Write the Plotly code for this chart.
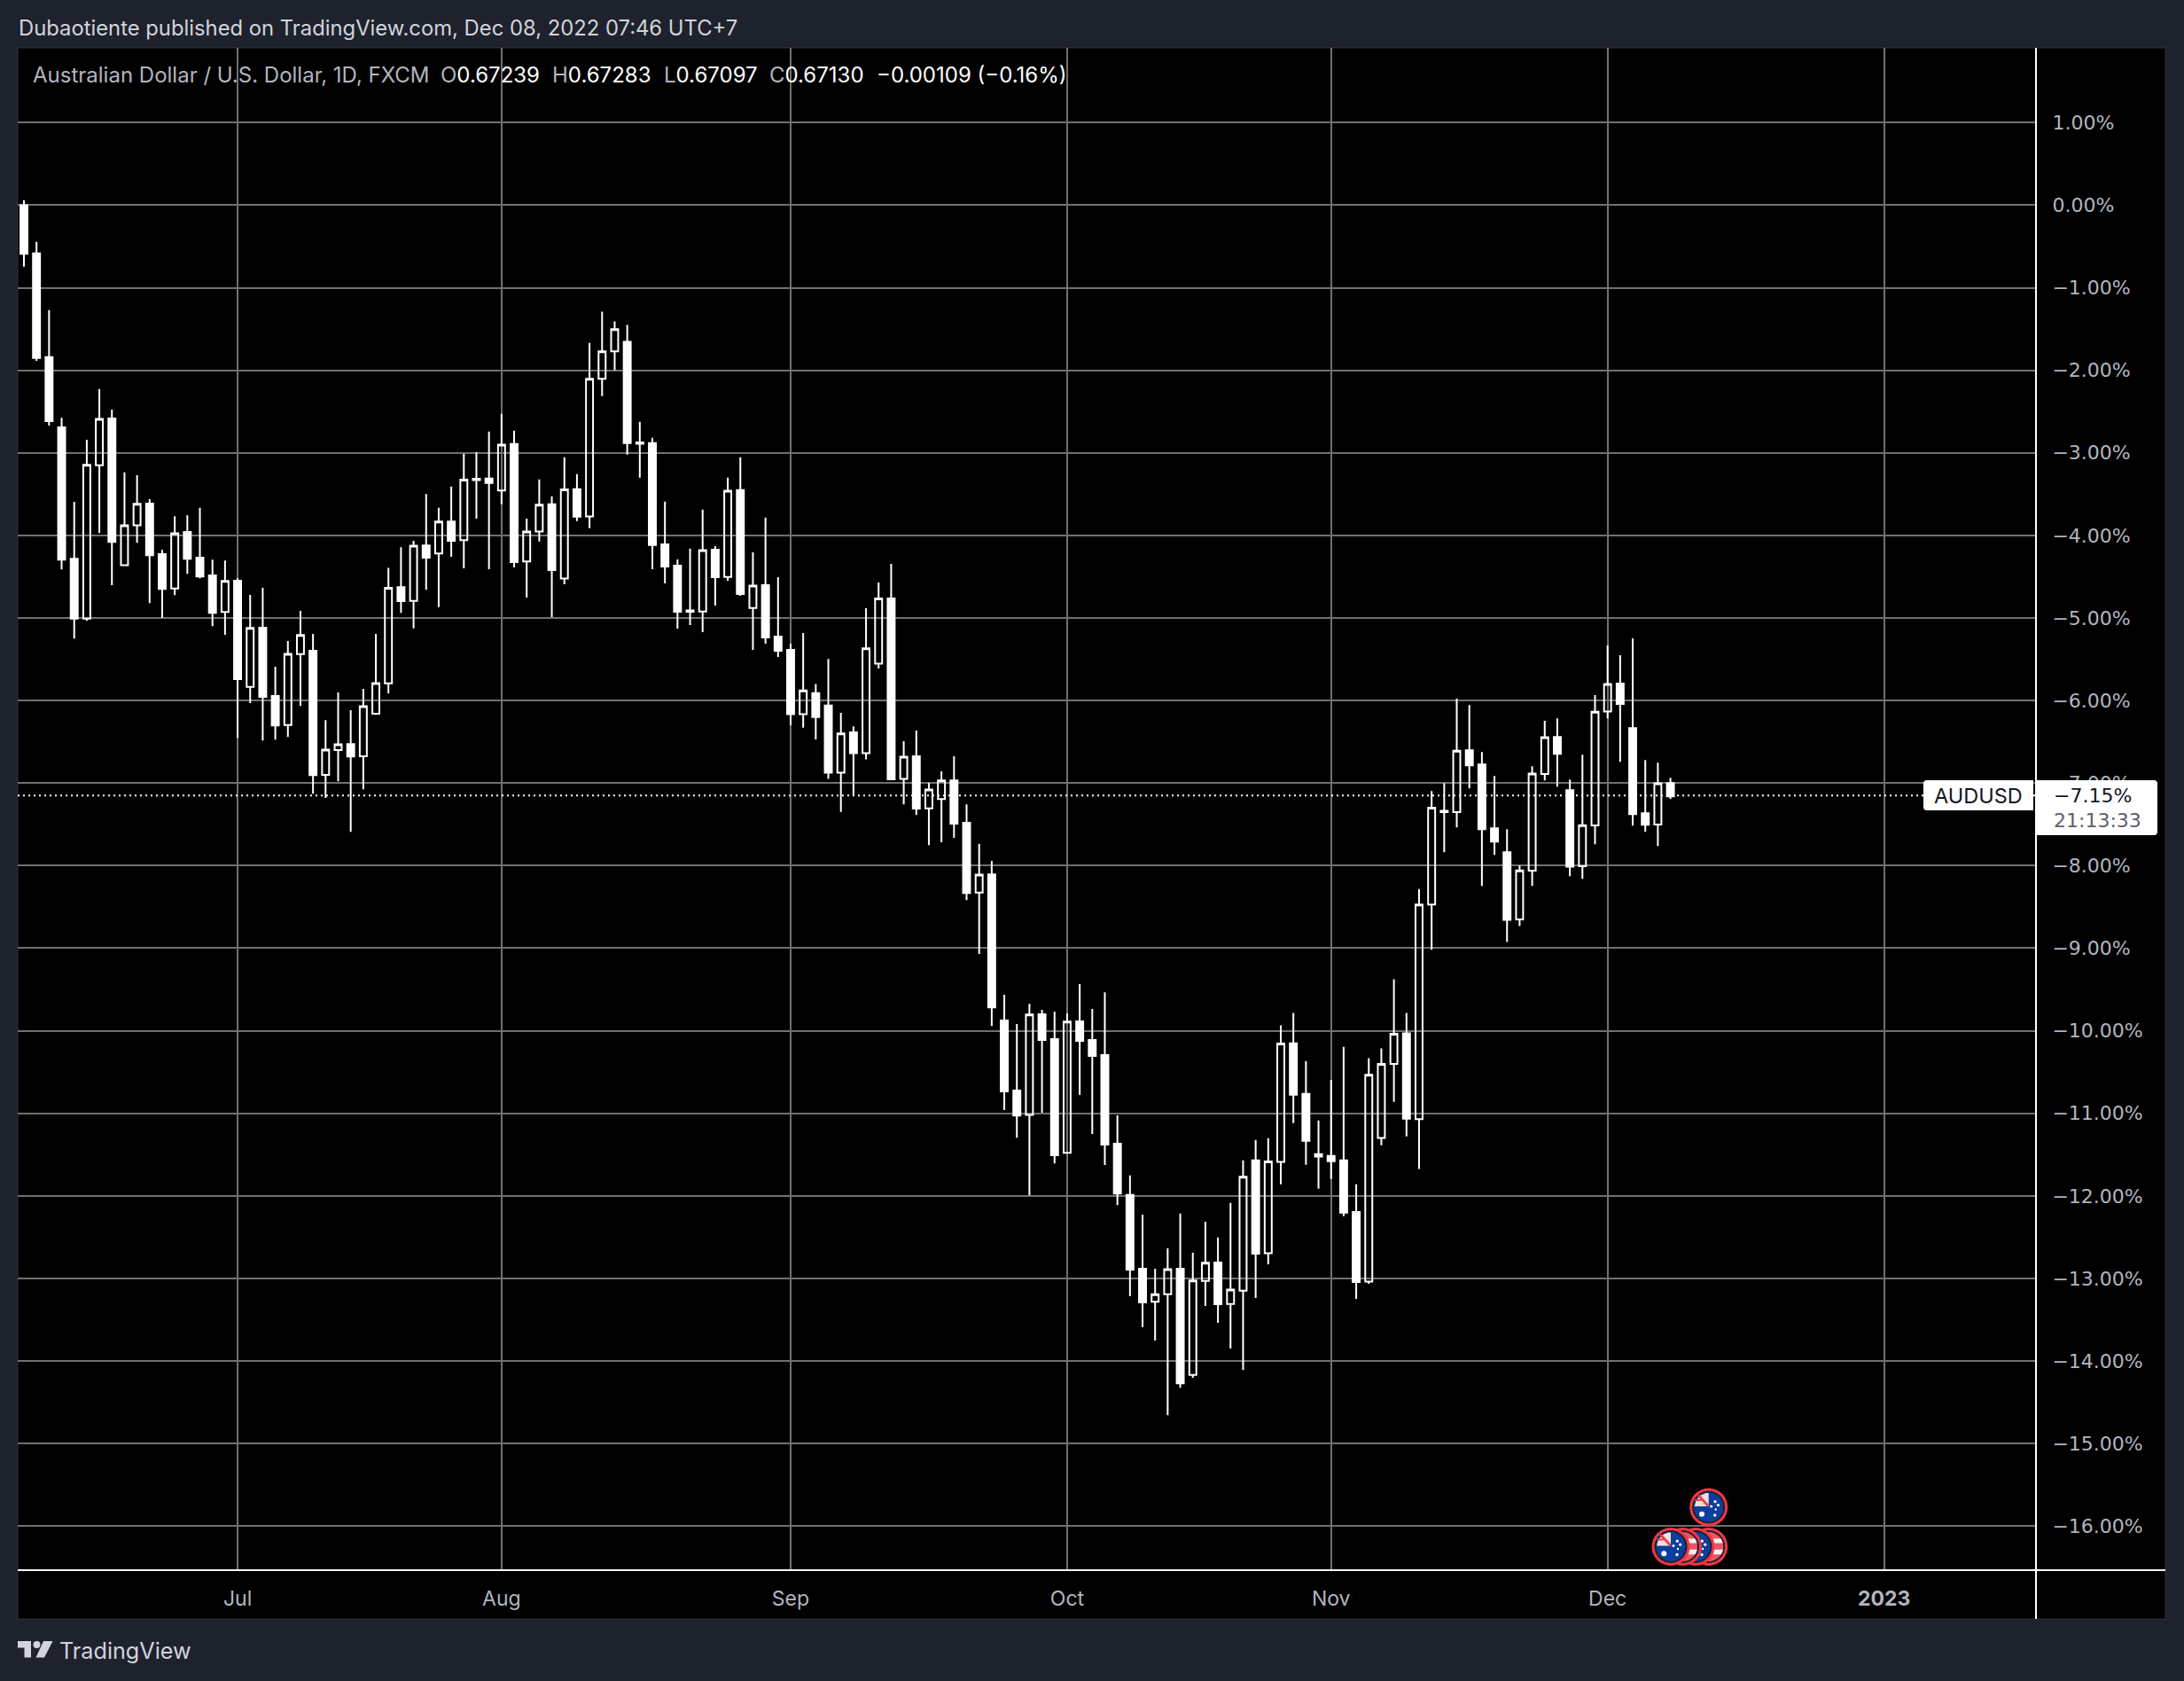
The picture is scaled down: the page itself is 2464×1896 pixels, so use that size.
import math
import plotly.graph_objects as go

W, H = 2464, 1896
# Plot pane in page pixels
PL, PR, PT, PB = 20, 2297, 54, 1771
PANEL_R, PANEL_B = 2443, 1826

# Percent change per daily bar
highs = [0.06,-0.445,-1.271,-2.577,-3.594,-2.842,-2.227,-2.477,-3.237,-3.272,-3.56,-4.174,-3.767,-3.756,-3.667,-4.293,-4.305,-4.52,
 -4.72,-4.634,-5.591,-5.28,-4.914,-5.194,-6.237,-5.903,-6.118,-5.86,-5.194,-4.393,-4.144,-4.067,-3.498,-3.667,-3.409,-3.011,-2.993,-2.742,
 -2.527,-2.731,-3.796,-3.323,-3.527,-3.054,-3.258,-1.667,-1.29,-1.409,-1.452,-2.624,-2.817,-3.591,-4.29,-4.161,-3.688,-4.129,-3.301,-3.054,
 -4.204,-3.785,-4.505,-5.312,-5.183,-5.8,-5.498,-6.15,-6.312,-4.882,-4.571,-4.345,-6.494,-6.365,-6.998,-6.859,-6.676,-7.257,-7.736,-7.942,
 -9.564,-9.918,-9.674,-9.746,-9.767,-9.789,-9.434,-9.735,-9.535,-11.025,-11.753,-12.226,-12.882,-12.634,-12.215,-12.688,-12.312,-12.505,-12.086,-11.57,
 -11.323,-11.301,-9.935,-9.785,-10.366,-11.086,-10.595,-10.194,-11.86,-10.333,-10.215,-9.376,-9.785,-8.283,-7.097,-7.0,-5.978,-6.054,-6.624,-6.914,
 -7.559,-8.0,-6.796,-6.247,-6.215,-6.957,-6.656,-5.935,-5.333,-5.452,-5.247,-6.72,-6.753,-6.935]
body_tops = [0.0,-0.584,-1.839,-2.692,-4.282,-3.145,-2.588,-2.584,-3.879,-3.617,-3.614,-4.228,-3.975,-3.959,-4.27,-4.485,-4.552,-4.548,
 -5.122,-5.118,-5.946,-5.434,-5.208,-5.398,-6.595,-6.53,-6.527,-6.068,-5.789,-4.635,-4.627,-4.124,-4.121,-3.832,-3.832,-3.326,-3.315,-3.312,
 -2.9,-2.892,-3.953,-3.627,-3.624,-3.444,-3.441,-2.104,-1.771,-1.502,-1.656,-2.875,-2.882,-4.108,-4.366,-4.91,-4.179,-4.172,-3.459,-3.452,
 -4.609,-4.602,-5.226,-5.387,-5.878,-5.91,-6.06,-6.4,-6.384,-5.367,-4.763,-4.763,-6.681,-6.676,-7.079,-6.969,-6.969,-7.482,-8.11,-8.105,
 -9.875,-10.724,-9.803,-9.799,-10.1,-9.889,-9.885,-10.111,-10.294,-11.369,-11.989,-12.882,-13.19,-12.889,-12.882,-13.025,-12.81,-12.806,-13.136,-11.767,
 -11.57,-11.584,-10.154,-10.151,-10.763,-11.495,-11.516,-11.57,-12.194,-10.534,-10.401,-10.036,-10.032,-8.472,-7.297,-7.337,-6.609,-6.602,-6.774,-7.548,
 -7.839,-8.057,-6.885,-6.444,-6.441,-7.086,-7.509,-6.136,-5.799,-5.796,-6.333,-7.366,-7.004,-7.0]
body_bottoms = [-0.59,-1.851,-2.615,-4.293,-5.008,-5.008,-3.149,-4.078,-4.362,-3.879,-4.24,-4.647,-4.643,-4.282,-4.497,-4.939,-4.928,-5.742,
 -5.835,-5.957,-6.301,-6.297,-5.437,-6.903,-6.9,-6.599,-6.677,-6.674,-6.161,-5.792,-4.796,-4.793,-4.27,-4.22,-4.065,-4.057,-3.33,-3.366,
 -3.455,-4.323,-4.315,-3.953,-4.419,-4.523,-3.774,-3.771,-2.104,-1.771,-2.882,-2.889,-4.118,-4.376,-4.925,-4.925,-4.921,-4.505,-4.502,-4.71,
 -4.878,-5.237,-5.398,-6.166,-6.166,-6.2,-6.875,-6.875,-6.638,-6.638,-5.554,-6.954,-6.95,-7.309,-7.305,-7.194,-7.492,-8.331,-8.326,-9.717,
 -10.734,-11.026,-11.018,-10.111,-11.509,-11.477,-10.122,-10.305,-11.38,-11.971,-12.892,-13.29,-13.283,-13.19,-14.269,-14.168,-13.029,-13.312,-13.308,-13.147,
 -12.699,-12.695,-11.588,-10.774,-11.333,-11.523,-11.581,-12.204,-13.043,-13.039,-11.297,-10.401,-11.065,-11.069,-8.472,-7.351,-7.351,-6.785,-7.559,-7.71,
 -8.656,-8.652,-8.061,-6.889,-6.645,-8.011,-8.007,-7.513,-6.133,-6.043,-7.376,-7.505,-7.502,-7.161]
lows = [-0.745,-1.886,-2.669,-4.412,-5.25,-5.035,-3.971,-4.604,-4.362,-4.09,-4.82,-4.996,-4.723,-4.466,-4.52,-5.1,-5.204,-6.452,
 -6.032,-6.484,-6.473,-6.441,-6.065,-7.129,-7.179,-6.978,-7.591,-7.075,-6.172,-5.914,-4.939,-5.127,-4.658,-4.869,-4.258,-4.398,-3.796,-4.409,
 -3.624,-4.387,-4.753,-4.075,-4.989,-4.591,-3.828,-3.914,-2.312,-2.0,-3.022,-3.301,-4.409,-4.581,-5.129,-5.086,-5.172,-4.849,-4.548,-4.731,
 -5.387,-5.312,-5.473,-6.3,-6.33,-6.47,-6.95,-7.35,-7.156,-6.714,-5.612,-6.964,-7.257,-7.386,-7.751,-7.717,-7.664,-8.417,-9.07,-9.942,
 -10.959,-11.295,-11.993,-10.993,-11.606,-11.487,-10.778,-11.251,-11.627,-12.111,-13.215,-13.591,-13.753,-14.656,-14.323,-14.204,-13.333,-13.538,-13.849,-14.108,
 -13.237,-12.828,-11.86,-11.118,-11.624,-11.914,-11.796,-12.247,-13.247,-13.065,-11.387,-10.86,-11.28,-11.673,-9.018,-7.839,-7.538,-7.065,-8.247,-7.871,
 -8.925,-8.731,-8.247,-6.968,-7.043,-8.129,-8.161,-7.742,-6.215,-6.742,-7.516,-7.591,-7.763,-7.194]
hollow_bars = {5,6,8,9,12,16,18,21,22,24,25,27,28,29,31,33,35,38,40,41,43,45,46,47,54,56,58,62,65,67,68,70,72,73,76,80,83,
               90,91,93,94,96,97,99,100,107,108,109,111,112,114,119,120,121,124,125,126,130}
last_pct = -7.15

opens = [b if i in hollow_bars else t for i, (t, b) in enumerate(zip(body_tops, body_bottoms))]
closes = [t if i in hollow_bars else b for i, (t, b) in enumerate(zip(body_tops, body_bottoms))]
bars = list(range(len(highs)))

# Axes
month_bars = [17, 38, 61, 83, 104, 126, 148]
month_labels = ["Jul", "Aug", "Sep", "Oct", "Nov", "Dec", "<b>2023</b>"]
pct_ticks = list(range(1, -17, -1))
pct_labels = [f"{p}.00%".replace("-", "\u2212") for p in pct_ticks]
X0, BAR_DX = 27.0, 14.18
Y0, PCT_DY = 231.4, 93.12
x_range = [(PL - X0) / BAR_DX, (PR - X0) / BAR_DX]
y_range = [(Y0 - PB) / PCT_DY, (Y0 - PT) / PCT_DY]

FONT = "Inter, Liberation Sans, sans-serif"
NUM_FONT = "DejaVu Sans, Inter, sans-serif"
GRID = "#707070"
TXT = "#b2b5be"

def px(x, y):
    return x / W, 1 - y / H

def rect_path(x0, y0, x1, y1, rl=0, rr=0):
    a, b = px(x0, y0), px(x1, y1)
    rx_l, ry_l = rl / W, rl / H
    rx_r, ry_r = rr / W, rr / H
    return (f"M{a[0]+rx_l},{a[1]} L{b[0]-rx_r},{a[1]} Q{b[0]},{a[1]} {b[0]},{a[1]-ry_r} "
            f"L{b[0]},{b[1]+ry_r} Q{b[0]},{b[1]} {b[0]-rx_r},{b[1]} L{a[0]+rx_l},{b[1]} "
            f"Q{a[0]},{b[1]} {a[0]},{b[1]+ry_l} L{a[0]},{a[1]-ry_l} Q{a[0]},{a[1]} {a[0]+rx_l},{a[1]} Z")

def pshape(path, fill, line=None, lw=0, layer="above"):
    return dict(type="path", xref="paper", yref="paper", path=path, fillcolor=fill,
                line=dict(color=line or "rgba(0,0,0,0)", width=lw), layer=layer)

def poly(points):
    pts = [px(*p) for p in points]
    return "M" + " L".join(f"{x},{y}" for x, y in pts) + " Z"

def circle(cx, cy, r, fill):
    return dict(type="circle", xref="paper", yref="paper", x0=(cx - r) / W, x1=(cx + r) / W,
                y0=1 - (cy + r) / H, y1=1 - (cy - r) / H, fillcolor=fill,
                line=dict(width=0), layer="above")

def band(cx, cy, r, y0, y1):
    """horizontal stripe clipped to a circle"""
    ys = [y0 + (y1 - y0) * k / 8 for k in range(9)]
    right = [(cx + math.sqrt(max(r * r - v * v, 0)), cy + v) for v in ys]
    left = [(cx - math.sqrt(max(r * r - v * v, 0)), cy + v) for v in reversed(ys)]
    return pshape(poly(right + left), "#f4f4f6")

def coin_base(cx, cy):
    return [circle(cx, cy, 21.5, "#f23645"), circle(cx, cy, 18.5, "#1e222d")]

def coin_au(cx, cy):
    s = coin_base(cx, cy) + [circle(cx, cy, 16.5, "#0b3f9e")]
    s.append(pshape(poly([(cx - 16, cy - 1), (cx - 14, cy - 8), (cx - 9, cy - 13.5), (cx - 3, cy - 16), (cx, cy - 16), (cx, cy - 1)]), "#f6dede"))
    s.append(pshape(poly([(cx - 13, cy - 13), (cx - 10, cy - 14), (cx, cy - 3), (cx, cy - 1), (cx - 2, cy - 1)]), "#e8404f"))
    s.append(pshape(poly([(cx - 16, cy - 9), (cx - 8, cy - 9), (cx - 8, cy - 7), (cx - 15, cy - 7)]), "#e8404f"))
    for dx, dy, r in [(-7.7, 7.7, 3), (7.3, -6.3, 1.6), (10.7, -2.3, 1.6), (3, -1, 1.5), (8, 2.5, 1.2), (7, 9, 1.7)]:
        s.append(circle(cx + dx, cy + dy, r, "#ffffff"))
    return s

def coin_us(cx, cy):
    s = coin_base(cx, cy) + [circle(cx, cy, 16.5, "#f0555f")]
    s.append(band(cx, cy, 16.5, -9, -4))
    s.append(band(cx, cy, 16.5, 3.3, 8.7))
    return s

shapes = [
    pshape(rect_path(PL, PT, PANEL_R, PANEL_B), "#000000", "#2f3340", 1, "below"),
    dict(type="line", xref="x domain", yref="y", x0=0, x1=1, y0=last_pct, y1=last_pct,
         line=dict(color="#ffffff", width=2, dash="2px,4px"), layer="above"),
    dict(type="line", xref="paper", yref="paper", x0=PL / W, x1=PANEL_R / W, y0=1 - PB / H, y1=1 - PB / H,
         line=dict(color="#ffffff", width=2), layer="above"),
    dict(type="line", xref="paper", yref="paper", x0=PR / W, x1=PR / W, y0=1 - PT / H, y1=1 - PANEL_B / H,
         line=dict(color="#ffffff", width=2), layer="above"),
    pshape(rect_path(2170, 880, 2294, 914, rl=4), "#ffffff"),
    pshape(rect_path(2298, 880, 2434, 942, rr=4), "#ffffff"),
    # TradingView logo
    pshape(poly([(20, 1851), (35, 1851), (35, 1869.5), (27.5, 1869.5), (27.5, 1858.5), (20, 1858.5)]), "#d1d4dc"),
    circle(41.5, 1855, 4, "#d1d4dc"),
    pshape(poly([(49, 1851), (59.5, 1851), (50, 1869.5), (40.5, 1869.5)]), "#d1d4dc"),
]
shapes += coin_us(1927.7, 1744.5) + coin_au(1913, 1744.5) + coin_us(1898.5, 1744.5) + coin_au(1885, 1744.5)
shapes += coin_au(1927.7, 1700)

def note(x, y, text, color, size, anchor="left", family=FONT):
    xp, yp = px(x, y)
    return dict(xref="paper", yref="paper", x=xp, y=yp, text=text, showarrow=False, xanchor=anchor,
                yanchor="middle", font=dict(family=family, color=color, size=size), borderpad=0)

legend_title = "Australian Dollar / U.S. Dollar, 1D, FXCM"
ohlc_keys = ["O", "H", "L", "C"]
ohlc_values = ["0.67239", "0.67283", "0.67097", "0.67130"]
ohlc_x = [496, 622, 748, 867]
change_text = "\u22120.00109 (\u22120.16%)"

annotations = [
    note(20, 31, "Dubaotiente published on TradingView.com, Dec 08, 2022 07:46 UTC+7", "#d1d4dc", 23.8),
    note(36, 85, legend_title, TXT, 24),
    note(988, 85, change_text, "#ffffff", 24),
    note(66, 1862, "TradingView", "#d1d4dc", 25.2),
    note(2232, 897, "AUDUSD", "#131722", 23.5, "center"),
    note(2316, 897, "\u22127.15%", "#131722", 22, family=NUM_FONT),
    note(2316, 925, "21:13:33", "#5d606b", 22, family=NUM_FONT),
]
for xk, k, v in zip(ohlc_x, ohlc_keys, ohlc_values):
    annotations.append(note(xk, 85, f'<span style="color:{TXT}">{k}</span>{v}', "#ffffff", 24))

fig = go.Figure(go.Candlestick(
    x=bars, open=opens, high=highs, low=lows, close=closes,
    line=dict(width=2), whiskerwidth=0,
    increasing=dict(line=dict(color="#ffffff", width=2), fillcolor="rgba(0,0,0,0)"),
    decreasing=dict(line=dict(color="#ffffff", width=2), fillcolor="#ffffff"),
    showlegend=False,
))
fig.update_layout(
    width=W, height=H, margin=dict(l=0, r=0, t=0, b=0), autosize=False,
    paper_bgcolor="#1e222d", plot_bgcolor="#000000", boxgap=0.44, boxgroupgap=0,
    font=dict(family=FONT, color=TXT, size=23), showlegend=False,
    shapes=shapes, annotations=annotations,
    xaxis=dict(domain=[PL / W, PR / W], range=x_range, tickmode="array", tickvals=month_bars, ticktext=month_labels,
               showgrid=True, gridcolor=GRID, gridwidth=2, zeroline=False, rangeslider=dict(visible=False),
               ticks="outside", ticklen=11, tickcolor="rgba(0,0,0,0)", showline=False,
               tickfont=dict(family=FONT, color=TXT, size=23)),
    yaxis=dict(domain=[1 - PB / H, 1 - PT / H], range=y_range, side="right", tickmode="array",
               tickvals=pct_ticks, ticktext=pct_labels, showgrid=True, gridcolor=GRID, gridwidth=2,
               zeroline=False, ticks="outside", ticklen=13, tickcolor="rgba(0,0,0,0)", showline=False,
               tickfont=dict(family=NUM_FONT, color=TXT, size=22)),
)
fig.write_html("out.html", config=dict(displayModeBar=False),
               post_script="document.body.style.margin='0';document.body.style.background='#1e222d';")
